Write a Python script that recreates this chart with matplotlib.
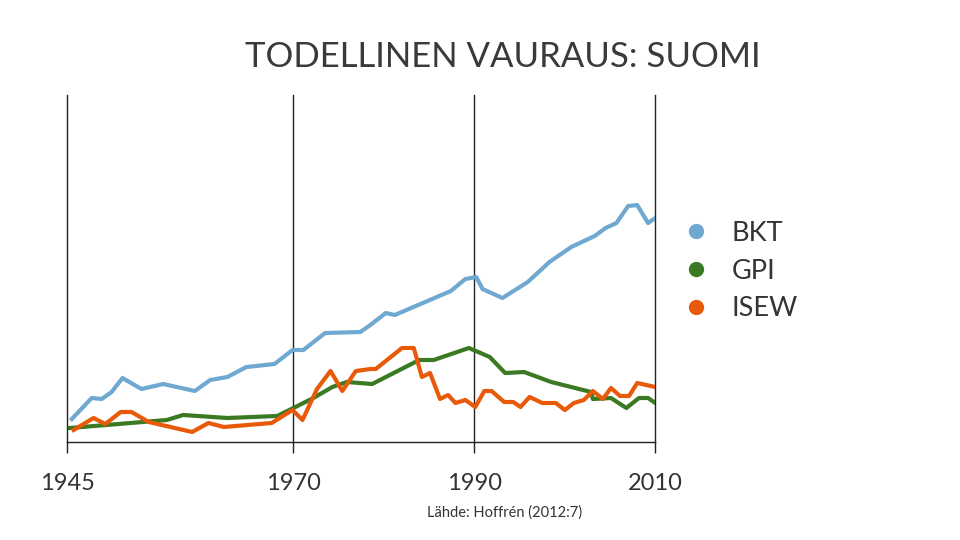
import matplotlib.pyplot as plt
from matplotlib.lines import Line2D

# data (arbitrary units, no y scale shown)
bkt_year = [1945.5, 1947.7, 1948.8, 1949.9, 1951.1, 1953.2, 1955.6, 1959.1, 1960.8,
            1962.7, 1964.8, 1967.9, 1969.9, 1971.1, 1973.5, 1977.4, 1978.5, 1980.2,
            1981.2, 1987.4, 1989.0, 1990.2, 1990.9, 1993.1, 1995.9, 1998.3, 2000.7,
            2003.3, 2004.5, 2005.7, 2007.0, 2008.0, 2009.2, 2010.0]
bkt = [23, 44, 43, 50, 64, 53, 58, 51, 62,
       65, 75, 78, 92, 92, 109, 110, 117, 129,
       127, 151, 163, 165, 153, 144, 160, 180, 195,
       206, 214, 219, 236, 237, 219, 224]

gpi_year = [1945.3, 1956.0, 1957.8, 1962.7, 1968.2, 1970.0, 1972.2, 1974.3, 1975.9,
            1978.7, 1983.9, 1985.5, 1989.4, 1991.7, 1993.4, 1995.5, 1998.5, 2002.9,
            2003.1, 2005.1, 2006.8, 2008.2, 2009.2, 2010.0]
gpi = [14, 22, 27, 24, 26, 34, 44, 55, 60,
       58, 82, 82, 94, 85, 69, 70, 60, 50,
       43, 44, 34, 44, 44, 39]

isew_year = [1945.7, 1947.9, 1949.2, 1950.9, 1952.1, 1954.0, 1958.8, 1960.6, 1962.3,
             1967.6, 1969.9, 1971.0, 1972.6, 1974.1, 1975.4, 1976.9, 1978.5, 1979.1,
             1982.0, 1983.3, 1984.2, 1985.1, 1986.2, 1987.1, 1987.9, 1989.0, 1990.1,
             1991.1, 1991.9, 1993.3, 1994.3, 1995.1, 1996.1, 1997.5, 1999.0, 2000.0,
             2001.0, 2002.1, 2003.1, 2004.2, 2005.1, 2006.1, 2007.1, 2008.0, 2010.0]
isew = [12, 24, 18, 30, 30, 20, 10, 19, 15,
        19, 32, 22, 53, 71, 51, 71, 73, 73,
        94, 94, 65, 69, 43, 47, 39, 42, 35,
        51, 51, 40, 40, 35, 45, 39, 39, 32,
        39, 42, 51, 43, 54, 46, 46, 59, 55]

ticks = [1945, 1970, 1990, 2010]
names = ['BKT', 'GPI', 'ISEW']
colors = ['#6fa8d0', '#3b7a22', '#e85a0a']

plt.rcParams['font.family'] = ['Lato', 'DejaVu Sans']

fig = plt.figure(figsize=(9.6, 5.4), dpi=100)
ax = fig.add_axes([0.0701, 0.1815, 0.6125, 0.6425])

# vertical reference lines at the labelled years
for t in ticks:
    ax.axvline(t, color='#222222', lw=1, zorder=1, clip_on=False)

ax.plot(bkt_year, bkt, color=colors[0], lw=3, solid_joinstyle='round', zorder=3)
ax.plot(gpi_year, gpi, color=colors[1], lw=3, solid_joinstyle='round', zorder=3)
ax.plot(isew_year, isew, color=colors[2], lw=3, solid_joinstyle='round', zorder=4)

ax.set_xlim(1945, 2010)
ax.set_ylim(0, 347)
for s in ['top', 'left', 'right']:
    ax.spines[s].set_visible(False)
ax.spines['bottom'].set_color('#222222')
ax.spines['bottom'].set_linewidth(1)
ax.set_yticks([])
ax.set_xticks(ticks)
ax.set_xticklabels([str(t) for t in ticks], fontsize=17, color='#333333')
ax.tick_params(axis='x', length=8, width=1, color='#222222', pad=14)

handles = [Line2D([], [], marker='o', linestyle='none', markersize=10,
                  markerfacecolor=c, markeredgecolor=c) for c in colors]
fig.legend(handles, names, loc='upper left', bbox_to_anchor=(0.686, 0.636),
           frameon=False, fontsize=19.5, labelcolor='#333333',
           handletextpad=0.8, labelspacing=0.47, handlelength=1.0)

fig.text(0.524, 0.895, 'TODELLINEN VAURAUS: SUOMI', ha='center', va='center',
         fontsize=25, color='#3a3a3a')
fig.text(0.526, 0.05, 'Lähde: Hoffrén (2012:7)', ha='center', va='center',
         fontsize=10.5, color='#333333')

fig.savefig('out.png', dpi=100)
